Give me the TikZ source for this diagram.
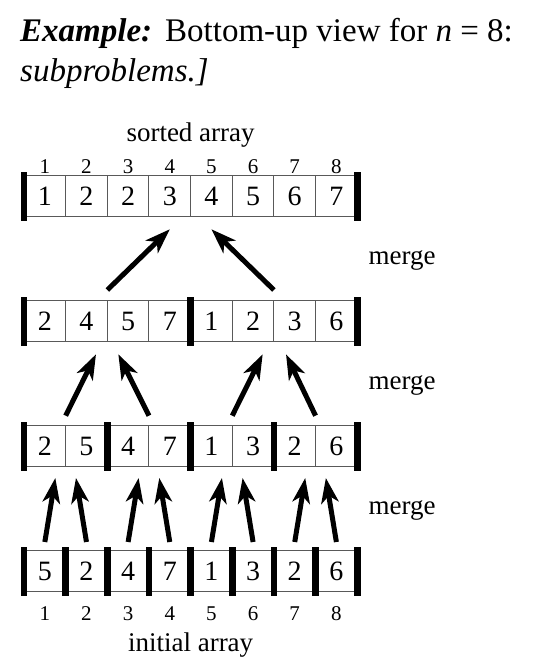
\documentclass[tikz,border=0pt]{standalone}
\usepackage{fontspec}
\setmainfont{Liberation Serif}
\usetikzlibrary{positioning,arrows.meta}

\begin{document}
\begin{tikzpicture}[x=1pt,y=1pt]
    \tikzstyle{cell} = [draw=black!65,line width=1pt,minimum width=41.65pt,minimum height=41pt,inner sep=0pt,outer sep=0pt,font=\fontsize{28}{28}\selectfont]
    \tikzstyle{idx} = [anchor=base,font=\fontsize{21}{21}\selectfont]
    \tikzstyle{lbl} = [anchor=base,font=\fontsize{27}{27}\selectfont]
    \tikzstyle{bar} = [fill=black]
    \tikzstyle{up} = [-{Stealth[length=25pt,width=17.5pt,inset=7pt]},line width=5pt]
    \useasboundingbox (0,0) rectangle (552,668);
    % heading
    \node[anchor=base west,inner sep=0pt,font=\fontsize{33}{33}\selectfont] (title) at (20,626.3) {\textbf{\textit{Example:}}\hspace{2pt} Bottom-up view for \textit{n} = 8:};
    \node[anchor=base west,inner sep=0pt,font=\fontsize{33}{33}\selectfont] (title2) at (20,586.3) {\textit{subproblems.]}};
    % sorted array
    \foreach \v [count=\i] in {1,2,2,3,4,5,6,7}
        \node[cell] (s\i) at ({24+41.65*(\i-0.5)},471.5) {\v};
    \foreach \i in {1,...,8}
        \node[idx] (t\i) at ({24+41.65*(\i-0.5)},494.7) {\i};
    \node[lbl] (sorted) at (190.6,526.3) {sorted array};
    \foreach \k in {0,8}
        \fill[bar] ({24+41.65*\k-3.35},447) rectangle +(6.7,49);
    % after second merge
    \foreach \v [count=\i] in {2,4,5,7,1,2,3,6}
        \node[cell] (m\i) at ({24+41.65*(\i-0.5)},346.5) {\v};
    \foreach \k in {0,4,8}
        \fill[bar] ({24+41.65*\k-3.35},322) rectangle +(6.7,49);
    % after first merge
    \foreach \v [count=\i] in {2,5,4,7,1,3,2,6}
        \node[cell] (p\i) at ({24+41.65*(\i-0.5)},221.5) {\v};
    \foreach \k in {0,2,4,6,8}
        \fill[bar] ({24+41.65*\k-3.35},197) rectangle +(6.7,49);
    % initial array
    \foreach \v [count=\i] in {5,2,4,7,1,3,2,6}
        \node[cell] (a\i) at ({24+41.65*(\i-0.5)},96.5) {\v};
    \foreach \k in {0,...,8}
        \fill[bar] ({24+41.65*\k-3.35},72) rectangle +(6.7,49);
    \foreach \i in {1,...,8}
        \node[idx] (b\i) at ({24+41.65*(\i-0.5)},47.3) {\i};
    \node[lbl] (initial) at (190.6,16.3) {initial array};
    % merges
    \node[lbl,anchor=base west] (merge1) at (365,403) {merge};
    \node[lbl,anchor=base west] (merge2) at (365,278) {merge};
    \node[lbl,anchor=base west] (merge3) at (365,153) {merge};
    \foreach \l/\r in {1/2,3/4,5/6,7/8} {
        \draw[up] ([yshift=9pt]a\l.north) -- ([shift={(10.5pt,-11pt)}]p\l.south);
        \draw[up] ([yshift=9pt]a\r.north) -- ([shift={(-10.5pt,-11pt)}]p\r.south);
    }
    \draw[up] ([yshift=10.3pt]p1.north east) -- ([shift={(9.5pt,-12.3pt)}]m2.south);
    \draw[up] ([yshift=10.3pt]p3.north east) -- ([shift={(-9.8pt,-12.3pt)}]m3.south);
    \draw[up] ([yshift=10.3pt]p5.north east) -- ([shift={(9.6pt,-12.3pt)}]m6.south);
    \draw[up] ([yshift=10.3pt]p7.north east) -- ([shift={(-8.7pt,-12.3pt)}]m7.south);
    \draw[up] ([yshift=11pt]m2.north east) -- ([yshift=-12.3pt]s4.south);
    \draw[up] ([yshift=11pt]m6.north east) -- ([yshift=-12.3pt]s5.south);
\end{tikzpicture}
\end{document}
